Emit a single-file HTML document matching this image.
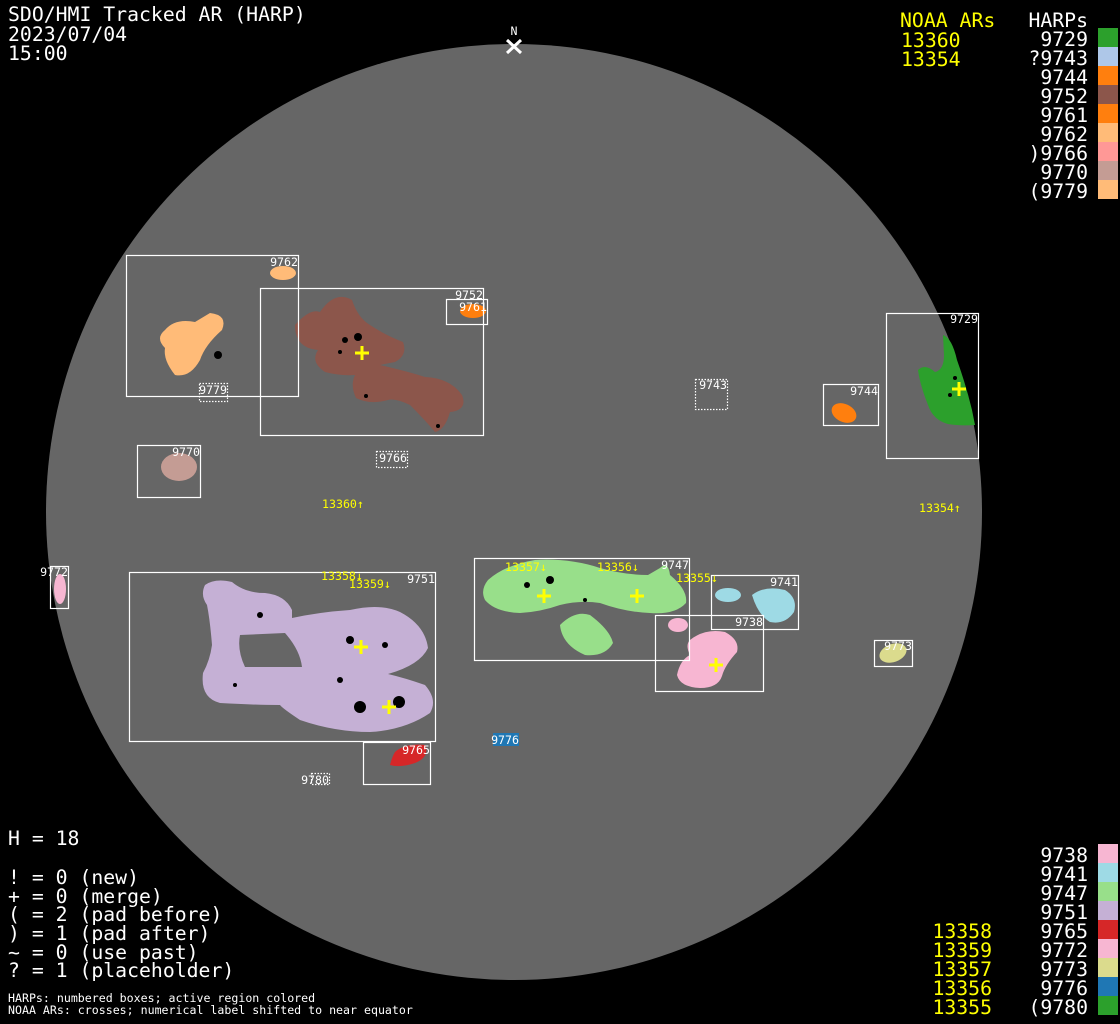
<!DOCTYPE html>
<html><head><meta charset="utf-8"><style>
html,body{margin:0;padding:0;background:#000;}
svg{display:block}
.t{font-family:"DejaVu Sans Mono","Liberation Mono",monospace;font-size:19.8px;fill:#fff}
.y{fill:#ff0}
.s{font-family:"DejaVu Sans Mono","Liberation Mono",monospace;font-size:11.6px;fill:#fff}
.sy{font-family:"DejaVu Sans Mono","Liberation Mono",monospace;font-size:11.6px;fill:#ff0}
.b{fill:none;stroke:#fff;stroke-width:1.2}
.d{fill:none;stroke:#fff;stroke-width:1.2;stroke-dasharray:1.5 1.5}
.c{stroke:#ff0;stroke-width:3}
</style></head><body>
<svg width="1120" height="1024" viewBox="0 0 1120 1024" xmlns="http://www.w3.org/2000/svg">
<rect width="1120" height="1024" fill="#000"/>
<circle cx="514" cy="512" r="468" fill="#666"/>
<text x="514" y="35" class="s" text-anchor="middle" font-size="9">N</text>
<path d="M507 40 L521 53 M521 40 L507 53" stroke="#fff" stroke-width="3"/>
<ellipse cx="283" cy="273" rx="13" ry="7" fill="#ffbb78"/>
<path d="M165 330 Q175 318 195 322 L210 313 Q228 315 222 330 Q205 345 200 360 Q190 378 175 375 Q163 360 165 348 Q155 338 165 330Z" fill="#ffbb78"/>
<path d="M295 325 Q310 308 320 312 Q335 290 352 300 Q358 318 370 325 Q385 335 403 342 Q408 355 395 362 L380 365 Q410 372 425 377 Q450 378 462 395 Q468 410 450 412 Q445 430 435 432 Q425 420 410 405 Q395 398 388 400 Q370 405 356 398 Q350 385 355 375 Q340 376 325 372 Q310 362 318 350 Q295 348 295 325Z" fill="#8c564b"/>
<ellipse cx="473" cy="311" rx="13" ry="7" fill="#ff7f0e"/>
<ellipse cx="179" cy="467" rx="18" ry="14" fill="#c49c94"/>
<ellipse cx="844" cy="413" rx="13" ry="9" transform="rotate(25 844 413)" fill="#ff7f0e"/>
<path d="M943 335 Q952 338 957 360 Q966 385 972 410 L975 425 Q960 426 948 424 Q933 420 928 405 Q920 385 918 370 Q925 363 935 372 Q944 370 944 355Z" fill="#2ca02c"/>
<ellipse cx="60" cy="589" rx="6" ry="15" fill="#f7b6d2"/>
<path fill-rule="evenodd" fill="#c5b0d5" d="M205 585 Q215 578 232 582 Q245 593 265 593 Q285 595 292 610 L292 618 Q320 612 350 610 Q380 603 400 612 Q425 625 428 648 Q420 665 388 674 Q405 678 425 685 Q438 700 430 713 Q405 730 370 732 Q335 732 300 720 Q282 708 280 705 Q255 705 220 703 Q200 698 203 673 Q210 660 212 645 Q210 620 207 605 Q200 595 205 585Z M240 635 L285 633 Q300 650 302 667 L245 667 Q237 650 240 635Z"/>
<path d="M395 752 Q405 743 425 745 Q430 757 415 763 Q400 768 390 765 Q392 757 395 752Z" fill="#d62728"/>
<path d="M488 580 Q505 565 535 560 Q570 558 600 568 Q625 575 648 575 L660 568 Q668 560 670 575 Q688 590 686 603 Q675 615 650 613 Q625 612 600 603 Q580 600 560 605 Q540 612 520 613 Q495 612 485 600 Q480 590 488 580Z" fill="#98df8a"/>
<path d="M560 625 Q575 610 590 615 Q610 630 613 643 Q605 657 585 655 Q562 645 560 625Z" fill="#98df8a"/>
<ellipse cx="728" cy="595" rx="13" ry="7" fill="#9edae5"/>
<path d="M752 595 Q765 585 785 590 Q798 598 794 612 Q785 625 770 622 Q758 615 752 595Z" fill="#9edae5"/>
<ellipse cx="678" cy="625" rx="10" ry="7" fill="#f7b6d2"/>
<path d="M690 640 Q705 628 725 632 Q740 640 737 652 Q725 665 722 676 Q718 688 700 688 Q680 687 677 675 Q680 660 690 655 Q685 645 690 640Z" fill="#f7b6d2"/>
<ellipse cx="893" cy="653" rx="14" ry="9" transform="rotate(-20 893 653)" fill="#dbdb8d"/>
<rect x="493" y="733" width="26" height="13" fill="#1f77b4"/>
<g fill="#000">
<circle cx="218" cy="355" r="4"/><circle cx="345" cy="340" r="3"/><circle cx="340" cy="352" r="2"/><circle cx="358" cy="337" r="4"/><circle cx="366" cy="396" r="2"/><circle cx="438" cy="426" r="2"/>
<circle cx="399" cy="702" r="6"/><circle cx="360" cy="707" r="6"/><circle cx="340" cy="680" r="3"/><circle cx="350" cy="640" r="4"/><circle cx="385" cy="645" r="3"/><circle cx="260" cy="615" r="3"/><circle cx="235" cy="685" r="2"/>
<circle cx="550" cy="580" r="4"/><circle cx="527" cy="585" r="3"/><circle cx="585" cy="600" r="2"/><circle cx="955" cy="378" r="2"/><circle cx="950" cy="395" r="2"/>
</g>
<rect class="b" x="126.5" y="255.5" width="172" height="141"/>
<rect class="b" x="260.5" y="288.5" width="223" height="147"/>
<rect class="b" x="446.5" y="299.5" width="41" height="25"/>
<rect class="d" x="199.5" y="383.5" width="28" height="18"/>
<rect class="b" x="137.5" y="445.5" width="63" height="52"/>
<rect class="d" x="376.5" y="451.5" width="31" height="16"/>
<rect class="d" x="695.5" y="379.5" width="32" height="30"/>
<rect class="b" x="823.5" y="384.5" width="55" height="41"/>
<rect class="b" x="886.5" y="313.5" width="92" height="145"/>
<rect class="b" x="50.5" y="566.5" width="18" height="42"/>
<rect class="b" x="129.5" y="572.5" width="306" height="169"/>
<rect class="b" x="474.5" y="558.5" width="215" height="102"/>
<rect class="b" x="711.5" y="575.5" width="87" height="54"/>
<rect class="b" x="655.5" y="615.5" width="108" height="76"/>
<rect class="b" x="874.5" y="640.5" width="38" height="26"/>
<rect class="b" x="363.5" y="742.5" width="67" height="42"/>
<rect class="d" x="311.5" y="773.5" width="18" height="11"/>
<g class="s" text-anchor="end">
<text x="298" y="266">9762</text><text x="483" y="299">9752</text><text x="487" y="311">9761</text>
<text x="227" y="394">9779</text><text x="200" y="456">9770</text><text x="407" y="462">9766</text>
<text x="727" y="389">9743</text><text x="878" y="395">9744</text><text x="978" y="323">9729</text>
<text x="68" y="576">9772</text><text x="435" y="583">9751</text><text x="689" y="569">9747</text>
<text x="798" y="586">9741</text><text x="763" y="626">9738</text><text x="912" y="650">9773</text>
<text x="519" y="744">9776</text><text x="430" y="754">9765</text><text x="329" y="784">9780</text>
</g>
<g class="sy">
<text x="322" y="508">13360↑</text><text x="919" y="512">13354↑</text>
<text x="321" y="580">13358↓</text><text x="349" y="588">13359↓</text>
<text x="505" y="571">13357↓</text><text x="597" y="571">13356↓</text><text x="676" y="582">13355↓</text>
</g>
<g class="c">
<path d="M355 353h14M362 346v14"/><path d="M952 389h14M959 382v14"/>
<path d="M354 647h14M361 640v14"/><path d="M382 707h14M389 700v14"/>
<path d="M537 596h14M544 589v14"/><path d="M630 596h14M637 589v14"/>
<path d="M709 665h14M716 658v14"/>
</g>
<text class="t" x="8" y="21">SDO/HMI Tracked AR (HARP)</text>
<text class="t" x="8" y="41">2023/07/04</text>
<text class="t" x="8" y="60">15:00</text>
<text class="t y" x="900" y="27">NOAA ARs</text>
<text class="t y" x="901" y="47">13360</text>
<text class="t y" x="901" y="66">13354</text>
<text class="t" x="1088" y="27" text-anchor="end">HARPs</text>
<g class="t" text-anchor="end">
<text x="1088" y="46">9729</text><text x="1088" y="65">?9743</text><text x="1088" y="84">9744</text>
<text x="1088" y="103">9752</text><text x="1088" y="122">9761</text><text x="1088" y="141">9762</text>
<text x="1088" y="160">)9766</text><text x="1088" y="179">9770</text><text x="1088" y="198">(9779</text>
</g>
<rect x="1098" y="28" width="20" height="19" fill="#2ca02c"/>
<rect x="1098" y="47" width="20" height="19" fill="#aec7e8"/>
<rect x="1098" y="66" width="20" height="19" fill="#ff7f0e"/>
<rect x="1098" y="85" width="20" height="19" fill="#8c564b"/>
<rect x="1098" y="104" width="20" height="19" fill="#ff7f0e"/>
<rect x="1098" y="123" width="20" height="19" fill="#ffbb78"/>
<rect x="1098" y="142" width="20" height="19" fill="#ff9896"/>
<rect x="1098" y="161" width="20" height="19" fill="#c49c94"/>
<rect x="1098" y="180" width="20" height="19" fill="#ffbb78"/>
<g class="t" text-anchor="end">
<text x="1088" y="862">9738</text><text x="1088" y="881">9741</text><text x="1088" y="900">9747</text>
<text x="1088" y="919">9751</text><text x="1088" y="938">9765</text><text x="1088" y="957">9772</text>
<text x="1088" y="976">9773</text><text x="1088" y="995">9776</text><text x="1088" y="1014">(9780</text>
</g>
<g class="t y" text-anchor="end">
<text x="992" y="938">13358</text><text x="992" y="957">13359</text><text x="992" y="976">13357</text>
<text x="992" y="995">13356</text><text x="992" y="1014">13355</text>
</g>
<rect x="1098" y="844" width="20" height="19" fill="#f7b6d2"/>
<rect x="1098" y="863" width="20" height="19" fill="#9edae5"/>
<rect x="1098" y="882" width="20" height="19" fill="#98df8a"/>
<rect x="1098" y="901" width="20" height="19" fill="#c5b0d5"/>
<rect x="1098" y="920" width="20" height="19" fill="#d62728"/>
<rect x="1098" y="939" width="20" height="19" fill="#f7b6d2"/>
<rect x="1098" y="958" width="20" height="19" fill="#dbdb8d"/>
<rect x="1098" y="977" width="20" height="19" fill="#1f77b4"/>
<rect x="1098" y="996" width="20" height="19" fill="#2ca02c"/>
<text class="t" x="8" y="845">H = 18</text>
<text class="t" x="8" y="884">! = 0 (new)</text>
<text class="t" x="8" y="903">+ = 0 (merge)</text>
<text class="t" x="8" y="921">( = 2 (pad before)</text>
<text class="t" x="8" y="940">) = 1 (pad after)</text>
<text class="t" x="8" y="959">~ = 0 (use past)</text>
<text class="t" x="8" y="977">? = 1 (placeholder)</text>
<text class="s" x="8" y="1002">HARPs: numbered boxes; active region colored</text>
<text class="s" x="8" y="1014">NOAA ARs: crosses; numerical label shifted to near equator</text>
</svg>
</body></html>
